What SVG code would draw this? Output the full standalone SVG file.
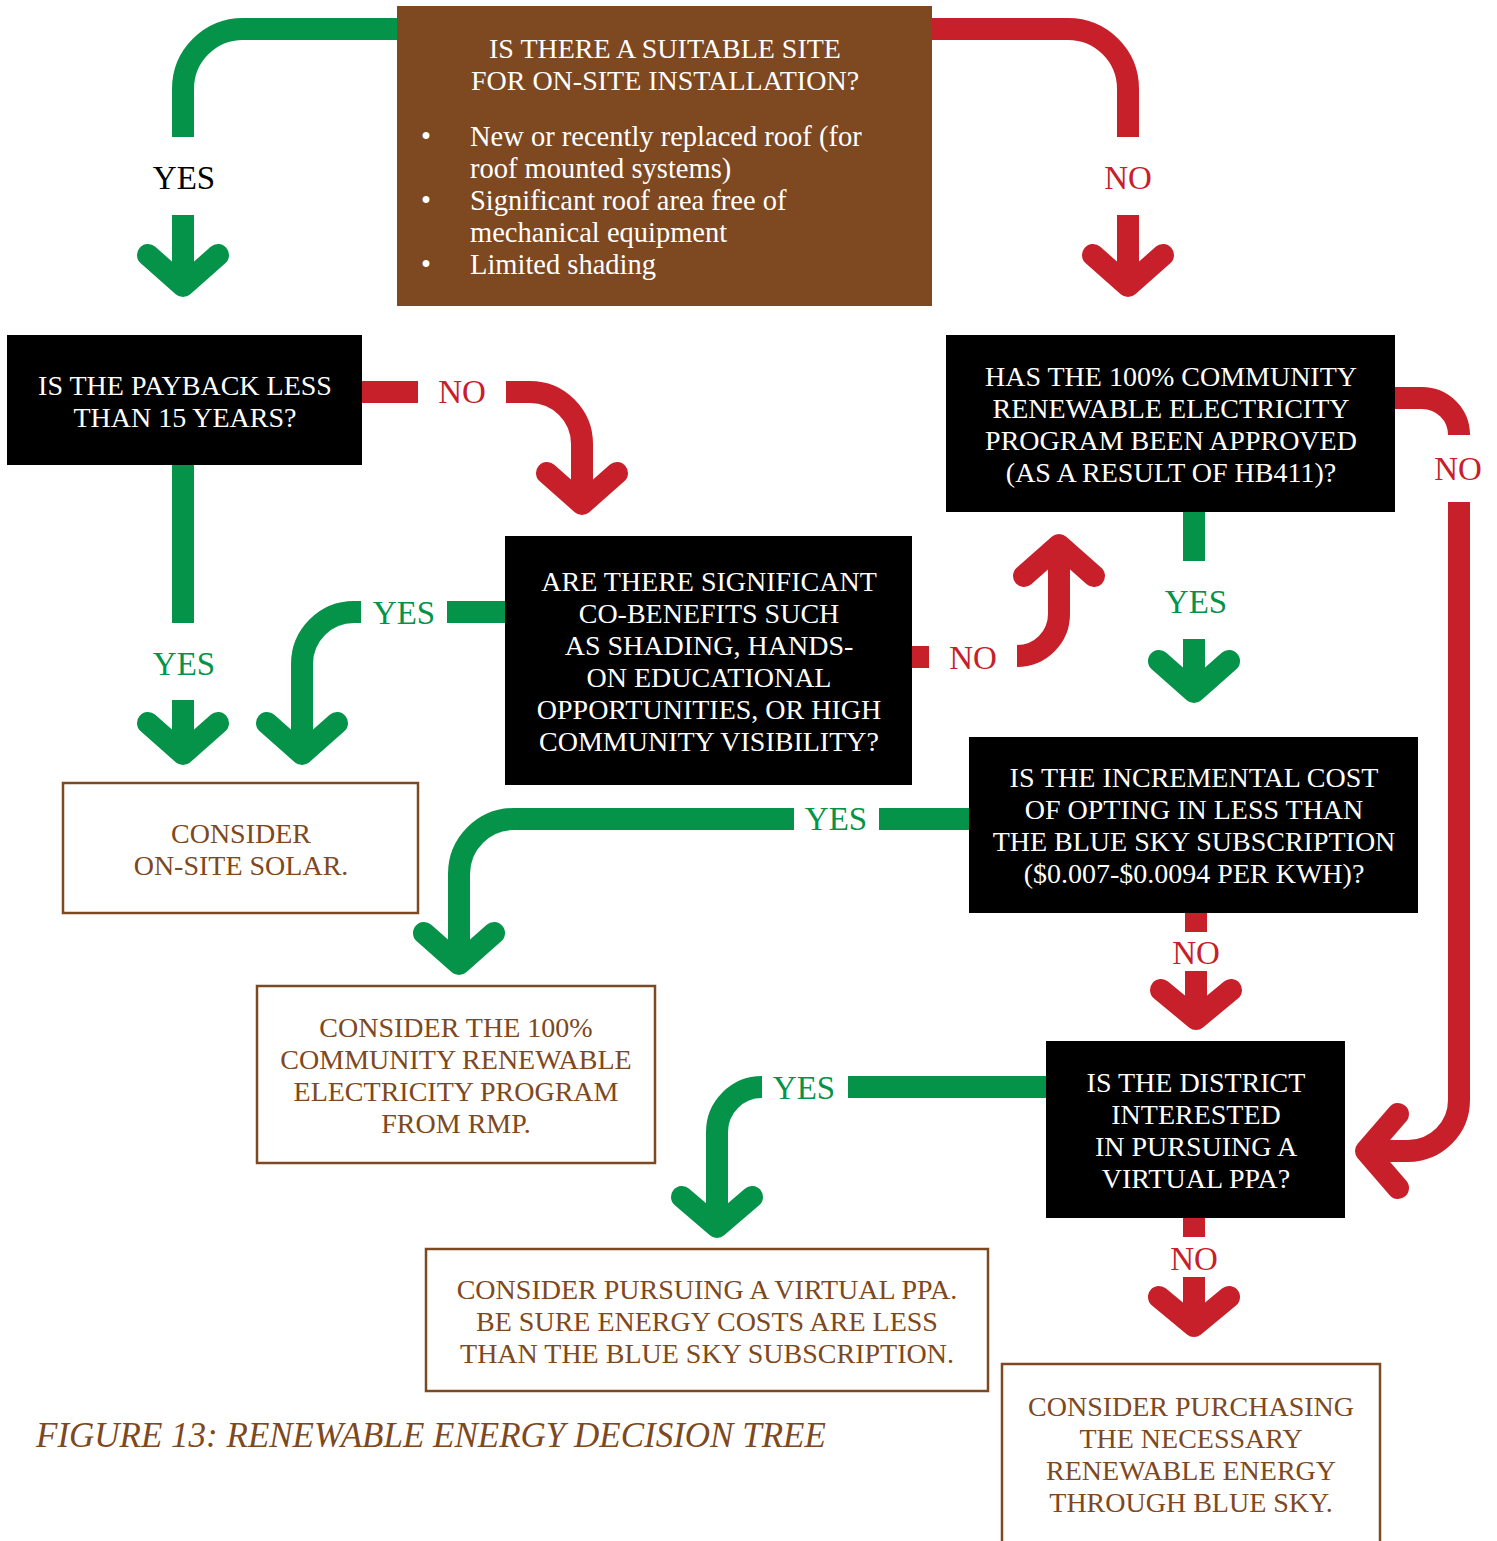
<svg xmlns="http://www.w3.org/2000/svg" width="1497" height="1541" viewBox="0 0 1497 1541">
  <style>
    .txt { font-family: "Liberation Serif", "Times New Roman", serif; font-size: 28px; text-anchor: middle; }
    .white { fill: #ffffff; }
    .brown { fill: #7E4820; }
    .lbl { font-family: "Liberation Serif", "Times New Roman", serif; font-size: 33px; text-anchor: middle; }
    .lg { fill: #05934A; }
    .lr { fill: #C8202A; }
    .lk { fill: #000000; }
    .dark { fill: #000000; }
    .outline { fill: #ffffff; stroke: #7E4820; stroke-width: 2.5; }
    .g { fill: none; stroke: #05934A; stroke-width: 22; }
    .r { fill: none; stroke: #C8202A; stroke-width: 22; }
    .head { stroke-linecap: round; stroke-linejoin: round; }
    .bul { font-family: "Liberation Serif", "Times New Roman", serif; font-size: 28.5px; fill: #ffffff; }
    .cap { font-family: "Liberation Serif", "Times New Roman", serif; font-size: 35px; font-style: italic; fill: #7E4820; }
  </style>

  <!-- connectors: bars, bends and chevron heads -->
  <g id="connectors">
    <!-- site question: yes -->
    <path class="g" d="M397,29 H243 A60,60 0 0 0 183,89 V137"/>
    <path class="g" d="M183,215 V282"/>
    <polyline class="g head" points="148,255 183,286 218,255"/>
    <!-- site question: no -->
    <path class="r" d="M932,29 H1068 A60,60 0 0 1 1128,89 V137"/>
    <path class="r" d="M1128,215 V282"/>
    <polyline class="r head" points="1093,255 1128,286 1163,255"/>

    <!-- payback: no -->
    <path class="r" d="M362,392 H418"/>
    <path class="r" d="M506,392 H530 A52,52 0 0 1 582,444 V500"/>
    <polyline class="r head" points="547,473 582,504 617,473"/>
    <!-- payback: yes -->
    <path class="g" d="M183,465 V623"/>
    <path class="g" d="M183,700 V750"/>
    <polyline class="g head" points="148,723 183,754 218,723"/>

    <!-- co-benefits: yes -->
    <path class="g" d="M505,612 H447"/>
    <path class="g" d="M361,612 H354 A52,52 0 0 0 302,664 V750"/>
    <polyline class="g head" points="267,723 302,754 337,723"/>
    <!-- co-benefits: no -->
    <path class="r" d="M912,657 H929"/>
    <path class="r" d="M1017,656 A42,42 0 0 0 1059,614 V550"/>
    <polyline class="r head" points="1024,576 1059,545 1094,576"/>

    <!-- community program: yes -->
    <path class="g" d="M1194,512 V561"/>
    <path class="g" d="M1194,639 V688"/>
    <polyline class="g head" points="1159,661 1194,692 1229,661"/>
    <!-- community program: no -->
    <path class="r" d="M1395,398 H1422 A37,37 0 0 1 1459,435 V433"/>
    <path class="r" d="M1459,502 V1100 A51,51 0 0 1 1408,1151 H1370"/>
    <polyline class="r head" points="1398,1114 1366,1151 1398,1188"/>

    <!-- incremental cost: yes -->
    <path class="g" d="M969,819 H879"/>
    <path class="g" d="M794,819 H514 A55,55 0 0 0 459,874 V960"/>
    <polyline class="g head" points="424,933 459,964 494,933"/>
    <!-- incremental cost: no -->
    <path class="r" d="M1196,913 V932"/>
    <path class="r" d="M1196,971 V1015"/>
    <polyline class="r head" points="1161,990 1196,1019 1231,990"/>

    <!-- virtual ppa: yes -->
    <path class="g" d="M1046,1087 H848"/>
    <path class="g" d="M762,1087 A45,45 0 0 0 717,1132 V1223"/>
    <polyline class="g head" points="682,1197 717,1227 752,1197"/>
    <!-- virtual ppa: no -->
    <path class="r" d="M1194,1218 V1237"/>
    <path class="r" d="M1194,1277 V1322"/>
    <polyline class="r head" points="1159,1297 1194,1326 1229,1297"/>
  </g>

  <!-- connector labels -->
  <g id="labels">
    <text class="lbl lk" x="184" y="189">YES</text>
    <text class="lbl lr" x="1128" y="189">NO</text>
    <text class="lbl lr" x="462" y="403">NO</text>
    <text class="lbl lg" x="184" y="675">YES</text>
    <text class="lbl lg" x="404" y="624">YES</text>
    <text class="lbl lr" x="973" y="669">NO</text>
    <text class="lbl lg" x="1196" y="613">YES</text>
    <text class="lbl lr" x="1458" y="480">NO</text>
    <text class="lbl lg" x="836" y="830">YES</text>
    <text class="lbl lr" x="1196" y="964">NO</text>
    <text class="lbl lg" x="804" y="1099">YES</text>
    <text class="lbl lr" x="1194" y="1270">NO</text>
  </g>

  <g id="site-question">
    <rect x="397" y="6" width="535" height="300" fill="#7E4820"/>
    <text class="txt white" x="665" y="58">IS THERE A SUITABLE SITE</text>
    <text class="txt white" x="665" y="90">FOR ON-SITE INSTALLATION?</text>
    <text class="bul" x="421" y="146">•</text>
    <text class="bul" x="470" y="146">New or recently replaced roof (for</text>
    <text class="bul" x="470" y="178">roof mounted systems)</text>
    <text class="bul" x="421" y="210">•</text>
    <text class="bul" x="470" y="210">Significant roof area free of</text>
    <text class="bul" x="470" y="242">mechanical equipment</text>
    <text class="bul" x="421" y="274">•</text>
    <text class="bul" x="470" y="274">Limited shading</text>
  </g>

  <g id="payback">
    <rect class="dark" x="7" y="335" width="355" height="130"/>
    <text class="txt white" x="185" y="395">IS THE PAYBACK LESS</text>
    <text class="txt white" x="185" y="427">THAN 15 YEARS?</text>
  </g>

  <g id="co-benefits">
    <rect class="dark" x="505" y="536" width="407" height="249"/>
    <text class="txt white" x="709" y="591">ARE THERE SIGNIFICANT</text>
    <text class="txt white" x="709" y="623">CO-BENEFITS SUCH</text>
    <text class="txt white" x="709" y="655">AS SHADING, HANDS-</text>
    <text class="txt white" x="709" y="687">ON EDUCATIONAL</text>
    <text class="txt white" x="709" y="719">OPPORTUNITIES, OR HIGH</text>
    <text class="txt white" x="709" y="751">COMMUNITY VISIBILITY?</text>
  </g>

  <g id="community-program">
    <rect class="dark" x="946" y="335" width="449" height="177"/>
    <text class="txt white" x="1171" y="386">HAS THE 100% COMMUNITY</text>
    <text class="txt white" x="1171" y="418">RENEWABLE ELECTRICITY</text>
    <text class="txt white" x="1171" y="450">PROGRAM BEEN APPROVED</text>
    <text class="txt white" x="1171" y="482">(AS A RESULT OF HB411)?</text>
  </g>

  <g id="on-site-solar">
    <rect class="outline" x="63" y="783" width="355" height="130"/>
    <text class="txt brown" x="241" y="843">CONSIDER</text>
    <text class="txt brown" x="241" y="875">ON-SITE SOLAR.</text>
  </g>

  <g id="incremental-cost">
    <rect class="dark" x="969" y="737" width="449" height="176"/>
    <text class="txt white" x="1194" y="787">IS THE INCREMENTAL COST</text>
    <text class="txt white" x="1194" y="819">OF OPTING IN LESS THAN</text>
    <text class="txt white" x="1194" y="851">THE BLUE SKY SUBSCRIPTION</text>
    <text class="txt white" x="1194" y="883">($0.007-$0.0094 PER KWH)?</text>
  </g>

  <g id="community-renewable">
    <rect class="outline" x="257" y="986" width="398" height="177"/>
    <text class="txt brown" x="456" y="1037">CONSIDER THE 100%</text>
    <text class="txt brown" x="456" y="1069">COMMUNITY RENEWABLE</text>
    <text class="txt brown" x="456" y="1101">ELECTRICITY PROGRAM</text>
    <text class="txt brown" x="456" y="1133">FROM RMP.</text>
  </g>

  <g id="virtual-ppa-question">
    <rect class="dark" x="1046" y="1041" width="299" height="177"/>
    <text class="txt white" x="1196" y="1092">IS THE DISTRICT</text>
    <text class="txt white" x="1196" y="1124">INTERESTED</text>
    <text class="txt white" x="1196" y="1156">IN PURSUING A</text>
    <text class="txt white" x="1196" y="1188">VIRTUAL PPA?</text>
  </g>

  <g id="virtual-ppa">
    <rect class="outline" x="426" y="1249" width="562" height="142"/>
    <text class="txt brown" x="707" y="1299">CONSIDER PURSUING A VIRTUAL PPA.</text>
    <text class="txt brown" x="707" y="1331">BE SURE ENERGY COSTS ARE LESS</text>
    <text class="txt brown" x="707" y="1363">THAN THE BLUE SKY SUBSCRIPTION.</text>
  </g>

  <g id="blue-sky">
    <rect class="outline" x="1002" y="1364" width="378" height="190"/>
    <text class="txt brown" x="1191" y="1416">CONSIDER PURCHASING</text>
    <text class="txt brown" x="1191" y="1448">THE NECESSARY</text>
    <text class="txt brown" x="1191" y="1480">RENEWABLE ENERGY</text>
    <text class="txt brown" x="1191" y="1512">THROUGH BLUE SKY.</text>
  </g>

  <text class="cap" x="36" y="1447">FIGURE 13: RENEWABLE ENERGY DECISION TREE</text>
</svg>
